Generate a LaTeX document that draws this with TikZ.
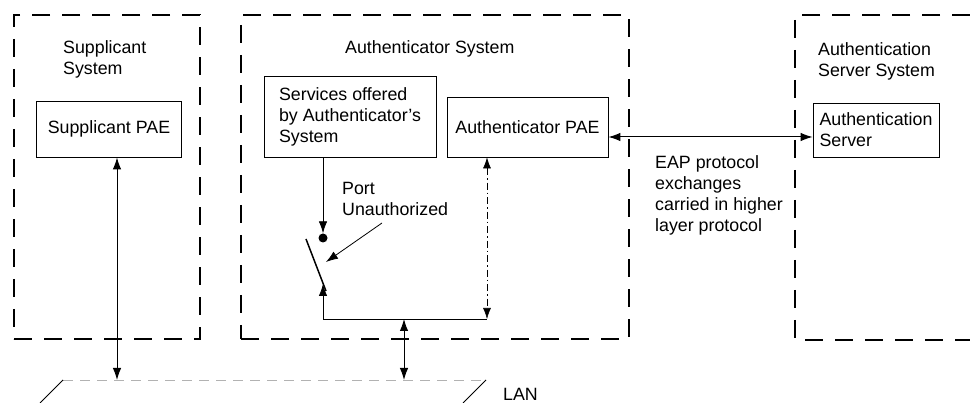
\documentclass[tikz,border=0pt]{standalone}
\usepackage{fontspec}
\setmainfont{Liberation Sans}
\usetikzlibrary{arrows.meta}
\begin{document}
\begin{tikzpicture}[x=1pt,y=-1pt,
  sysline/.style={line width=1.3pt, dash pattern=on 18pt off 12pt},
  sysbox/.style={sysline, draw, rectangle, inner sep=0pt},
  pae/.style={draw, rectangle, line width=0.8pt, align=left,
    font=\fontsize{17.8}{21}\selectfont},
  lbl/.style={inner sep=0pt, align=left, font=\fontsize{17.8}{21}\selectfont},
  tip/.style={-{Latex[length=12pt,width=8.5pt]}},
  dbl/.style={{Latex[length=12pt,width=8.5pt]}-{Latex[length=12pt,width=8.5pt]}, line width=1pt},
  dashdot/.style={line width=0.6pt, dash pattern=on 7pt off 3pt on 1.5pt off 3pt},
  conn/.style={line width=0.8pt}]
\useasboundingbox (0,0) rectangle (970,403);

% system boundaries
\node[sysbox, minimum width=186pt, minimum height=324pt] (supsys) at (107,177) {};
\node[sysbox, minimum width=388pt, minimum height=324pt] (authsys) at (435,177) {};
\coordinate (srvTR) at (970,15);
\coordinate (srvTL) at (795,15);
\coordinate (srvBL) at (795,340);
\coordinate (srvBR) at (970,340);
\draw[sysline] (srvTR) -- (srvTL) -- (srvBL) -- (srvBR);

% system titles
\node[lbl, anchor=north west] (suptxt) at (63,40) {Supplicant\\System};
\node[lbl, anchor=north west] (authtxt) at (345,40) {Authenticator System};
\node[lbl, anchor=north west] (srvtxt) at (818,42) {Authentication\\Server System};

% inner boxes
\node[pae, minimum width=145pt, minimum height=56pt] (supPAE) at (109,129) {Supplicant PAE};
\node[pae, minimum width=172pt, minimum height=81pt] (svc) at (350,116.5) {Services offered\\by Authenticator's\\System};
\node[pae, minimum width=161pt, minimum height=60pt] (apae) at (527.5,127) {Authenticator PAE};
\node[pae, minimum width=126pt, minimum height=54pt] (asrv) at (876,130) {Authentication\\Server};

% free labels
\node[lbl, anchor=north west] (eap) at (655,155) {EAP protocol\\exchanges\\carried in higher\\layer protocol};
\node[lbl, anchor=north west] (porttxt) at (342,182) {Port\\Unauthorized};
\node[lbl, anchor=base west] (lantxt) at (503,401) {LAN};

% LAN segment
\coordinate (lanL) at (63,380);
\coordinate (lanR) at (486,380);
\coordinate (lanLb) at (40,403);
\coordinate (lanRb) at (463,403);
\draw[gray!60, line width=0.7pt, dash pattern=on 10pt off 7pt] (lanL) -- (lanR);
\draw[line width=0.8pt] (lanL) -- (lanLb);
\draw[line width=0.8pt] (lanR) -- (lanRb);

% supplicant PAE to LAN
\coordinate (lanA) at (117,380);
\draw[dbl] (lanA |- supPAE.south) -- (lanA);

% EAP exchange between PAE and server
\coordinate (eapY) at (700,137);
\draw[dbl] (apae.east |- eapY) -- (asrv.west |- eapY);

% controlled port switch
\node[circle, fill, inner sep=0pt, minimum size=9pt] (dot) at (323,238) {};
\draw[conn, tip] (dot |- svc.south) -- (dot.north);
\coordinate (bladeTop) at (306,239);
\coordinate (bladeBot) at (326,291);
\draw[line width=1.5pt] (bladeTop) -- (bladeBot);
\coordinate (swL) at (323,319);
\coordinate (swR) at (487,319);
\coordinate (swTip) at (323,284);
\draw[conn, tip] (swL) -- (swTip);
\draw[conn] (swL) -- (swR);

% uncontrolled port
\draw[dashdot, {Latex[length=11pt,width=8pt]}-{Latex[length=11pt,width=8pt]}] (swR |- apae.south) -- (swR);

% port to LAN
\coordinate (lanB) at (404,380);
\draw[dbl] (lanB |- swL) -- (lanB);

% label pointer
\coordinate (ptrS) at (382,223);
\coordinate (ptrE) at (326,262);
\draw[conn, tip] (ptrS) -- (ptrE);
\end{tikzpicture}
\end{document}
